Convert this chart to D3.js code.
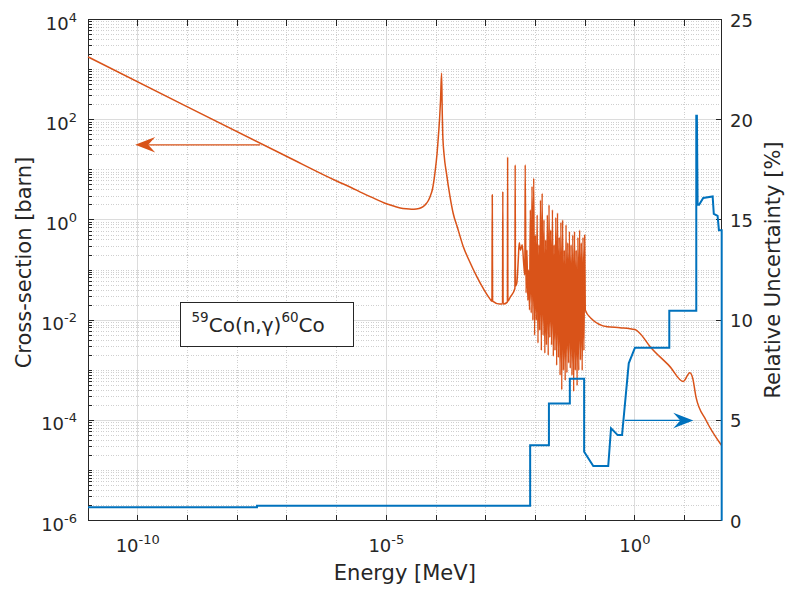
<!DOCTYPE html>
<html>
<head>
<meta charset="utf-8">
<script src="https://cdn.jsdelivr.net/npm/d3@7/dist/d3.min.js"></script>
<style>
  body { margin: 0; background: #fff; }
  text { font-family: "DejaVu Sans", sans-serif; fill: #262626; }
</style>
</head>
<body>
<div id="chart"></div>
<script>
// capture cross-section [MeV, barn]
const crossSection = [
  [1e-11, 1800], [1e-9, 180], [1e-7, 18.5], [1e-6, 6.0], [2e-6, 4.4], [3e-6, 3.6],
  [5e-6, 2.85], [1e-5, 2.1], [1.5e-5, 1.85], [1.9e-5, 1.74], [2.5e-5, 1.67],
  [3.2e-5, 1.64], [4e-5, 1.66], [5e-5, 1.75], [6e-5, 2.0], [7e-5, 2.45],
  [7.6e-5, 2.95], [8.5e-5, 4.2], [9.5e-5, 8.7], [1.05e-4, 22],
  [1.1e-4, 40], [1.18e-4, 110], [1.23e-4, 245], [1.29e-4, 850], [1.33e-4, 150],
  [1.36e-4, 54], [1.45e-4, 20], [1.62e-4, 8.5], [1.9e-4, 3.0],
  [2.2e-4, 1.38], [2.7e-4, 0.7], [3.5e-4, 0.30], [4.7e-4, 0.15], [6.6e-4, 0.074],
  [9e-4, 0.042], [1.2e-3, 0.027],
  [1.33e-3, 0.024], [1.35e-3, 3.2], [1.37e-3, 0.024], [1.9e-3, 0.021],
  [2.17e-3, 0.021], [2.2e-3, 3.7], [2.23e-3, 0.021], [2.72e-3, 0.023],
  [2.75e-3, 18], [2.78e-3, 0.024], [3.1e-3, 0.029], [3.85e-3, 0.043],
  [3.9e-3, 12.6], [3.95e-3, 0.048], [4.2e-3, 0.055], [4.5e-3, 0.16],
  [4.7e-3, 0.35], [5.0e-3, 0.25], [5.4e-3, 0.32], [5.8e-3, 0.13],
  [6.1e-3, 0.08], [6.2e-3, 12.6], [6.45e-3, 0.035],
  [6.73e-3, 0.25], [7.0e-3, 0.025], [7.28e-3, 0.10], [7.57e-3, 0.016],
  [7.87e-3, 1.6], [8.19e-3, 0.014], [8.51e-3, 4.7], [8.85e-3, 0.010],
  [9.20e-3, 6.8], [9.58e-3, 5.0e-3], [9.97e-3, 0.5], [1.04e-2, 0.010],
  [1.08e-2, 1.26], [1.12e-2, 3.5e-3], [1.17e-2, 0.32], [1.21e-2, 6.3e-3],
  [1.26e-2, 2.5], [1.31e-2, 2.5e-3], [1.36e-2, 3.4], [1.42e-2, 5.0e-3],
  [1.48e-2, 1.0], [1.54e-2, 2.2e-3], [1.60e-2, 0.4], [1.66e-2, 3.2e-3],
  [1.73e-2, 1.26], [1.80e-2, 2.0e-3], [1.87e-2, 2.0], [1.94e-2, 4.5e-3],
  [2.02e-2, 0.63], [2.10e-2, 3.2e-3], [2.19e-2, 1.6], [2.28e-2, 1.9e-3],
  [2.37e-2, 0.32], [2.46e-2, 2.5e-3], [2.56e-2, 1.12], [2.66e-2, 1.26e-3],
  [2.77e-2, 1.38], [2.88e-2, 1.8e-3], [3.00e-2, 0.45], [3.12e-2, 8.0e-4],
  [3.24e-2, 0.9], [3.37e-2, 4.1e-4], [3.51e-2, 1.0], [3.65e-2, 1.0e-3],
  [3.80e-2, 0.25], [3.95e-2, 6.3e-4], [4.11e-2, 0.8], [4.28e-2, 9.0e-4],
  [4.45e-2, 0.35], [4.63e-2, 1.4e-3], [4.81e-2, 0.59], [5.00e-2, 1.1e-3],
  [5.20e-2, 0.32], [5.41e-2, 8.0e-4], [5.62e-2, 0.5], [5.85e-2, 3.8e-4],
  [6.09e-2, 0.59], [6.34e-2, 1.0e-3], [6.59e-2, 0.25], [6.86e-2, 5.0e-4],
  [7.13e-2, 0.45], [7.41e-2, 1.0e-3], [7.71e-2, 0.63], [8.02e-2, 1.6e-3],
  [8.34e-2, 0.35], [8.68e-2, 1.0e-3], [9.02e-2, 0.45], [9.40e-2, 2.5e-3],
  [9.77e-2, 0.5], [0.1, 0.016], [0.13, 0.011], [0.28, 7.4e-3], [0.5, 7.1e-3],
  [1.0, 6.5e-3], [1.25, 5.5e-3], [2.0, 3.0e-3], [5.0, 1.2e-3], [9.3, 6.0e-4],
  [12.7, 9.0e-4], [14.5, 7.0e-4], [16.8, 3.0e-4], [27, 1.0e-4], [55, 3.2e-5]
];

// relative uncertainty [MeV, %]
const uncertainty = [
  [1e-11, 0.67], [2.5e-8, 0.67], [2.5e-8, 0.75], [7.8e-3, 0.75], [7.8e-3, 3.76],
  [1.86e-2, 3.76], [1.86e-2, 5.84], [4.9e-2, 5.84], [4.9e-2, 7.08], [0.095, 7.08],
  [0.095, 3.44], [0.145, 2.73], [0.29, 2.73], [0.33, 4.61], [0.45, 4.27],
  [0.55, 4.27], [0.75, 7.85], [1.0, 8.63], [4.9, 8.63], [4.9, 10.47],
  [17.1, 10.47], [17.1, 20.2], [17.6, 20.2], [18.2, 15.76], [19.5, 15.76],
  [23.6, 16.1], [36.5, 16.17], [38.5, 15.3], [45.9, 15.2], [48.8, 14.49],
  [55.5, 14.49], [55.5, 0]
];

const xTicks = [1e-10, 1e-5, 1e0];
const xDecades = [1e-10, 1e-9, 1e-8, 1e-7, 1e-6, 1e-5, 1e-4, 1e-3, 1e-2, 1e-1, 1e0, 1e1];
const yLeftTicks = [1e-6, 1e-4, 1e-2, 1e0, 1e2, 1e4];
const yRightTicks = [0, 5, 10, 15, 20, 25];

// arrows pointing to each axis
const xsArrow = { from: 2.9e-8, to: 8.9e-11, y: 31.6 };
const uncArrow = { from: 0.63, to: 14.9, y: 5 };

const W = 785, H = 589;
const pLeft = 88, pRight = 721.7, pTop = 19.5, pBottom = 520.7;
const orange = '#D95319', blue = '#0072BD', ink = '#262626';

const svg = d3.select('#chart').append('svg')
  .attr('width', W)
  .attr('height', H);

svg.append('rect').attr('width', W).attr('height', H).attr('fill', '#fff');

const x = d3.scaleLog().domain([1e-11, 55.5]).range([pLeft, pRight]);
const yL = d3.scaleLog().domain([1e-6, 1e4]).range([pBottom, pTop]);
const yR = d3.scaleLinear().domain([0, 25]).range([pBottom, pTop]);

// Grid
const grid = svg.append('g').attr('shape-rendering', 'crispEdges');
xDecades.forEach(d => {
  const major = xTicks.includes(d);
  grid.append('line')
    .attr('x1', x(d)).attr('x2', x(d))
    .attr('y1', pTop).attr('y2', pBottom)
    .attr('stroke', major ? '#dcdcdc' : '#cfcfcf')
    .attr('stroke-dasharray', major ? null : '1,1.5');
});
const yMinor = [];
for (let k = -6; k < 4; k++) {
  for (let m = 1; m < 10; m++) {
    const v = m * Math.pow(10, k);
    if (v > 1e-6 * 1.0001) yMinor.push(v);
  }
}
const isMajorY = v => yLeftTicks.some(t => Math.abs(t - v) / t < 1e-6);
yMinor.forEach(v => {
  const major = isMajorY(v);
  grid.append('line')
    .attr('x1', pLeft).attr('x2', pRight)
    .attr('y1', yL(v)).attr('y2', yL(v))
    .attr('stroke', major ? '#dcdcdc' : '#cfcfcf')
    .attr('stroke-dasharray', major ? null : '1,1.5');
});

// Axes box and ticks
const ax = svg.append('g').attr('stroke', ink).attr('shape-rendering', 'crispEdges');
ax.append('rect')
  .attr('x', pLeft).attr('y', pTop)
  .attr('width', pRight - pLeft).attr('height', pBottom - pTop)
  .attr('fill', 'none');

xDecades.forEach(d => {
  ax.append('line').attr('x1', x(d)).attr('x2', x(d)).attr('y1', pBottom).attr('y2', pBottom - 6);
  ax.append('line').attr('x1', x(d)).attr('x2', x(d)).attr('y1', pTop).attr('y2', pTop + 6);
});
yMinor.forEach(v => {
  ax.append('line').attr('x1', pLeft).attr('x2', pLeft + (isMajorY(v) ? 6 : 3.5))
    .attr('y1', yL(v)).attr('y2', yL(v));
});
yRightTicks.forEach(v => {
  ax.append('line').attr('x1', pRight).attr('x2', pRight - 6)
    .attr('y1', yR(v)).attr('y2', yR(v));
});

// Data lines
svg.append('clipPath').attr('id', 'plot-clip')
  .append('rect').attr('x', pLeft - 1).attr('y', pTop - 2)
  .attr('width', pRight - pLeft + 3).attr('height', pBottom - pTop + 4);

const plot = svg.append('g').attr('clip-path', 'url(#plot-clip)');

plot.append('path')
  .datum(crossSection)
  .attr('d', d3.line().curve(d3.curveMonotoneX).x(d => x(d[0])).y(d => yL(d[1])))
  .attr('fill', 'none')
  .attr('stroke', orange)
  .attr('stroke-width', 1.5)
  .attr('stroke-linejoin', 'round');

plot.append('path')
  .datum(uncertainty)
  .attr('d', d3.line().x(d => x(d[0])).y(d => yR(d[1])))
  .attr('fill', 'none')
  .attr('stroke', blue)
  .attr('stroke-width', 2);

// Arrows
function drawArrow(x0, x1, yy, color) {
  const dir = x1 > x0 ? 1 : -1;
  const len = 20, half = 7.7, notch = 13;
  svg.append('line')
    .attr('x1', x0).attr('x2', x1 - dir * notch)
    .attr('y1', yy).attr('y2', yy)
    .attr('stroke', color).attr('stroke-width', 1.3);
  svg.append('path')
    .attr('d', `M${x1},${yy} L${x1 - dir * len},${yy - half} L${x1 - dir * notch},${yy} L${x1 - dir * len},${yy + half} Z`)
    .attr('fill', color);
}
drawArrow(x(xsArrow.from), x(xsArrow.to), yL(xsArrow.y), orange);
drawArrow(x(uncArrow.from), x(uncArrow.to), yR(uncArrow.y), blue);

// Tick labels
function powLabel(sel, v) {
  const e = Math.round(Math.log10(v));
  sel.append('tspan').text('10');
  sel.append('tspan').attr('font-size', '13px').attr('dy', -8).text(e);
}

xTicks.forEach(v => {
  const t = svg.append('text')
    .attr('x', x(v)).attr('y', 552)
    .attr('text-anchor', 'middle')
    .attr('font-size', '18px');
  powLabel(t, v);
});

yLeftTicks.forEach(v => {
  const t = svg.append('text')
    .attr('x', 77).attr('y', yL(v) + 10)
    .attr('text-anchor', 'end')
    .attr('font-size', '18px');
  powLabel(t, v);
});

yRightTicks.forEach(v => {
  svg.append('text')
    .attr('x', 730).attr('y', yR(v) + 7)
    .attr('font-size', '18px')
    .text(v);
});

// Axis labels
svg.append('text')
  .attr('x', (pLeft + pRight) / 2).attr('y', 580)
  .attr('text-anchor', 'middle')
  .attr('font-size', '21px')
  .text('Energy [MeV]');

svg.append('text')
  .attr('transform', 'translate(31,262.5) rotate(-90)')
  .attr('text-anchor', 'middle')
  .attr('font-size', '21px')
  .text('Cross-section [barn]');

svg.append('text')
  .attr('transform', 'translate(780,270) rotate(-90)')
  .attr('text-anchor', 'middle')
  .attr('font-size', '21px')
  .text('Relative Uncertainty [%]');

// Reaction label box
svg.append('rect')
  .attr('x', 180.5).attr('y', 302.5)
  .attr('width', 173).attr('height', 43.5)
  .attr('fill', '#fff')
  .attr('stroke', ink)
  .attr('stroke-width', 1)
  .attr('shape-rendering', 'crispEdges');

const lbl = svg.append('text')
  .attr('x', 191.5).attr('y', 332)
  .attr('font-size', '20px');
lbl.append('tspan').attr('font-size', '13.5px').attr('dy', -10).text('59');
lbl.append('tspan').attr('dy', 10).text('Co(n,γ)');
lbl.append('tspan').attr('font-size', '13.5px').attr('dy', -10).text('60');
lbl.append('tspan').attr('dy', 10).text('Co');
</script>
</body>
</html>
